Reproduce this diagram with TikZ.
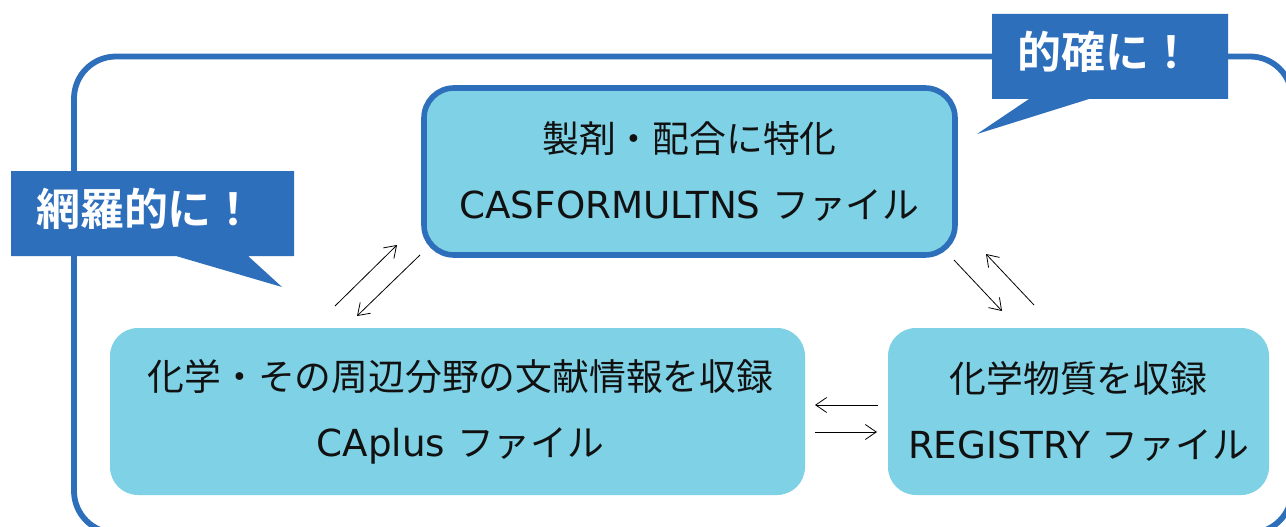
\documentclass[tikz,border=0pt]{standalone}
\usepackage{fontspec}
\setmainfont{DejaVu Sans}[Scale=1.012]
\newfontfamily\cjk{Noto Sans CJK JP}
\newfontfamily\cjkb{Noto Sans CJK JP}[BoldFont={Noto Sans CJK JP Bold}]
\usetikzlibrary{arrows.meta}
\definecolor{bluedark}{HTML}{2E6FBC}
\definecolor{boxfill}{HTML}{7FD1E5}
\definecolor{ink}{HTML}{111111}
\tikzset{
  frame/.style={draw=bluedark,line width=5.8pt,rounded corners=42pt},
  infobox/.style={fill=boxfill,rounded corners=28pt,inner sep=0pt,outer sep=0pt,anchor=north west,align=center,text=ink,font=\fontsize{36.8}{66}\selectfont},
  topbox/.style={infobox,draw=bluedark,line width=5.6pt,rounded corners=30pt},
  callout/.style={fill=bluedark,draw=none},
  calltext/.style={text=white,inner sep=0pt,font=\fontsize{44}{44}\selectfont\cjkb\bfseries},
  link/.style={draw=black,line width=0.8pt,-{Straight Barb[length=11pt,width=15pt,line width=0.8pt]}},
}
\begin{document}
\begin{tikzpicture}[x=1pt,y=-1pt]
\useasboundingbox (0,0) rectangle (1286,527);
\fill[white] (0,0) rectangle (1286,527);
\draw[frame] (74,56.5) rectangle (1292,533);
\path[clip,use as bounding box] (0,0) rectangle (1286,527);
\node[topbox,minimum width=531pt,minimum height=167pt] (formul) at (424,88) {{\cjk 製剤・配合に特化}\\CASFORMULTNS {\cjk ファイル}};
\node[infobox,minimum width=695pt,minimum height=167pt] (caplus) at (110,328) {\hspace*{6pt}{\cjk 化学・その周辺分野の文献情報を収録}\\\hspace*{6pt}CAplus {\cjk ファイル}};
\node[infobox,minimum width=381pt,minimum height=167pt] (registry) at (888,328) {{\cjk 化学物質を収録}\\REGISTRY {\cjk ファイル}};
\fill[callout] (992,14) -- (1228,14) -- (1228,99) -- (1089,99) -- (977,134) -- (1029,99) -- (992,99) -- cycle;
\node[calltext] (tekikaku) at (1105,52) {的確に！};
\fill[callout] (11,171) -- (294,171) -- (294,256) -- (248,256) -- (282,287) -- (176,256) -- (11,256) -- cycle;
\node[calltext] (moura) at (146,209) {網羅的に！};
\coordinate (a1) at (335,306); \coordinate (a2) at (397,245);
\coordinate (b1) at (420,255); \coordinate (b2) at (357,316);
\coordinate (c1) at (954,260); \coordinate (c2) at (1002,311);
\coordinate (d1) at (1034,305); \coordinate (d2) at (986,254);
\coordinate (e1) at (878,405); \coordinate (e2) at (815,405);
\coordinate (f1) at (815,432); \coordinate (f2) at (877,432);
\draw[link] (a1) -- (a2);
\draw[link] (b1) -- (b2);
\draw[link] (c1) -- (c2);
\draw[link] (d1) -- (d2);
\draw[link] (e1) -- (e2);
\draw[link] (f1) -- (f2);
\end{tikzpicture}
\end{document}
